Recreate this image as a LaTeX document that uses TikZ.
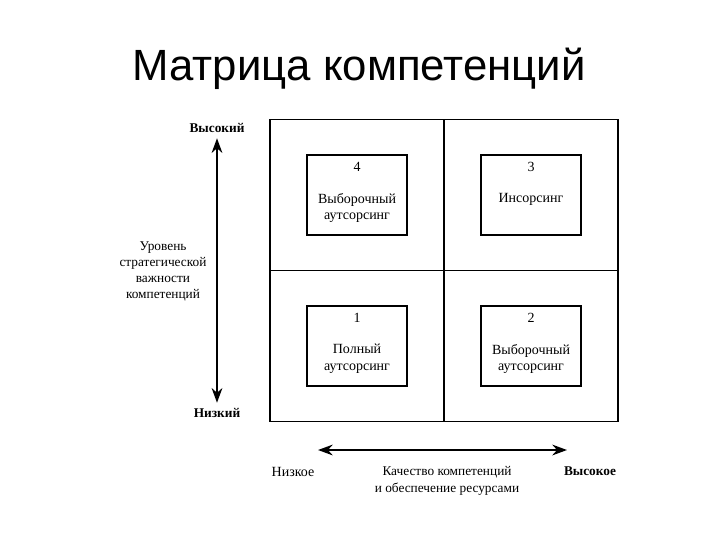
\documentclass[tikz,border=0pt]{standalone}
\usepackage{fontspec}
\setmainfont{Liberation Serif}
\newfontfamily\titlefont{Liberation Sans}
\usetikzlibrary{positioning,arrows.meta}

\tikzset{
  cell/.style={draw, line width=1.2pt, minimum width=130.5pt, minimum height=113pt, inner sep=0pt},
  box/.style={draw, line width=1pt, minimum width=75pt, minimum height=60pt, inner sep=0pt},
  lbl/.style={font=\fontsize{10.5}{12.5}\selectfont, align=center, inner sep=1pt},
  axis/.style={line width=1.7pt, {Stealth[length=11pt,width=8pt]}-{Stealth[length=11pt,width=8pt]}},
}

\begin{document}
\begin{tikzpicture}[x=0.75pt, y=-0.75pt]
  \useasboundingbox (0,0) rectangle (720,540);

  \node[font=\titlefont\fontsize{32.8}{38}\selectfont] (title) at (359,69) {Матрица компетенций};

  % quadrants of the matrix
  \node[cell] (q4) at (357,195) {};
  \node[cell] (q3) at (531,195) {};
  \node[cell] (q1) at (357,346) {};
  \node[cell] (q2) at (531,346) {};

  % inner boxes
  \node[box] (b4) at (q4) {};
  \node[box] (b3) at (q3) {};
  \node[box] (b1) at (q1) {};
  \node[box] (b2) at (q2) {};

  \node[lbl, below=5pt of b4.north] (n4) {4};
  \node[lbl, below=5pt of b3.north] (n3) {3};
  \node[lbl, below=5pt of b1.north] (n1) {1};
  \node[lbl, below=5pt of b2.north] (n2) {2};

  \node[lbl, below=28pt of b4.north] (t4) {Выборочный\\аутсорсинг};
  \node[lbl, below=28pt of b3.north] (t3) {Инсорсинг};
  \node[lbl, below=28pt of b1.north] (t1) {Полный\\аутсорсинг};
  \node[lbl, below=28pt of b2.north] (t2) {Выборочный\\аутсорсинг};

  % vertical axis
  \node[lbl, font=\bfseries\fontsize{10}{12.5}\selectfont] (vhigh) at (217,128) {Высокий};
  \node[lbl, font=\bfseries\fontsize{10}{12.5}\selectfont] (vlow) at (217,413) {Низкий};
  \node[lbl, font=\fontsize{10}{12}\selectfont] (vname) at (163,271) {Уровень\\стратегической\\важности\\компетенций};
  \draw[axis, shorten <=3pt, shorten >=3pt] (vhigh) -- (vlow);

  % horizontal axis
  \coordinate (hlo) at (318,450);
  \coordinate (hhi) at (567,450);
  \draw[axis] (hlo) -- (hhi);
  \node[lbl] (hlow) at (293,472) {Низкое};
  \node[lbl, font=\bfseries\fontsize{10}{12.5}\selectfont] (hhigh) at (590,471) {Высокое};
  \node[lbl, font=\fontsize{10}{13}\selectfont] (hname) at (447,481) {Качество компетенций\\и обеспечение ресурсами};
\end{tikzpicture}
\end{document}
